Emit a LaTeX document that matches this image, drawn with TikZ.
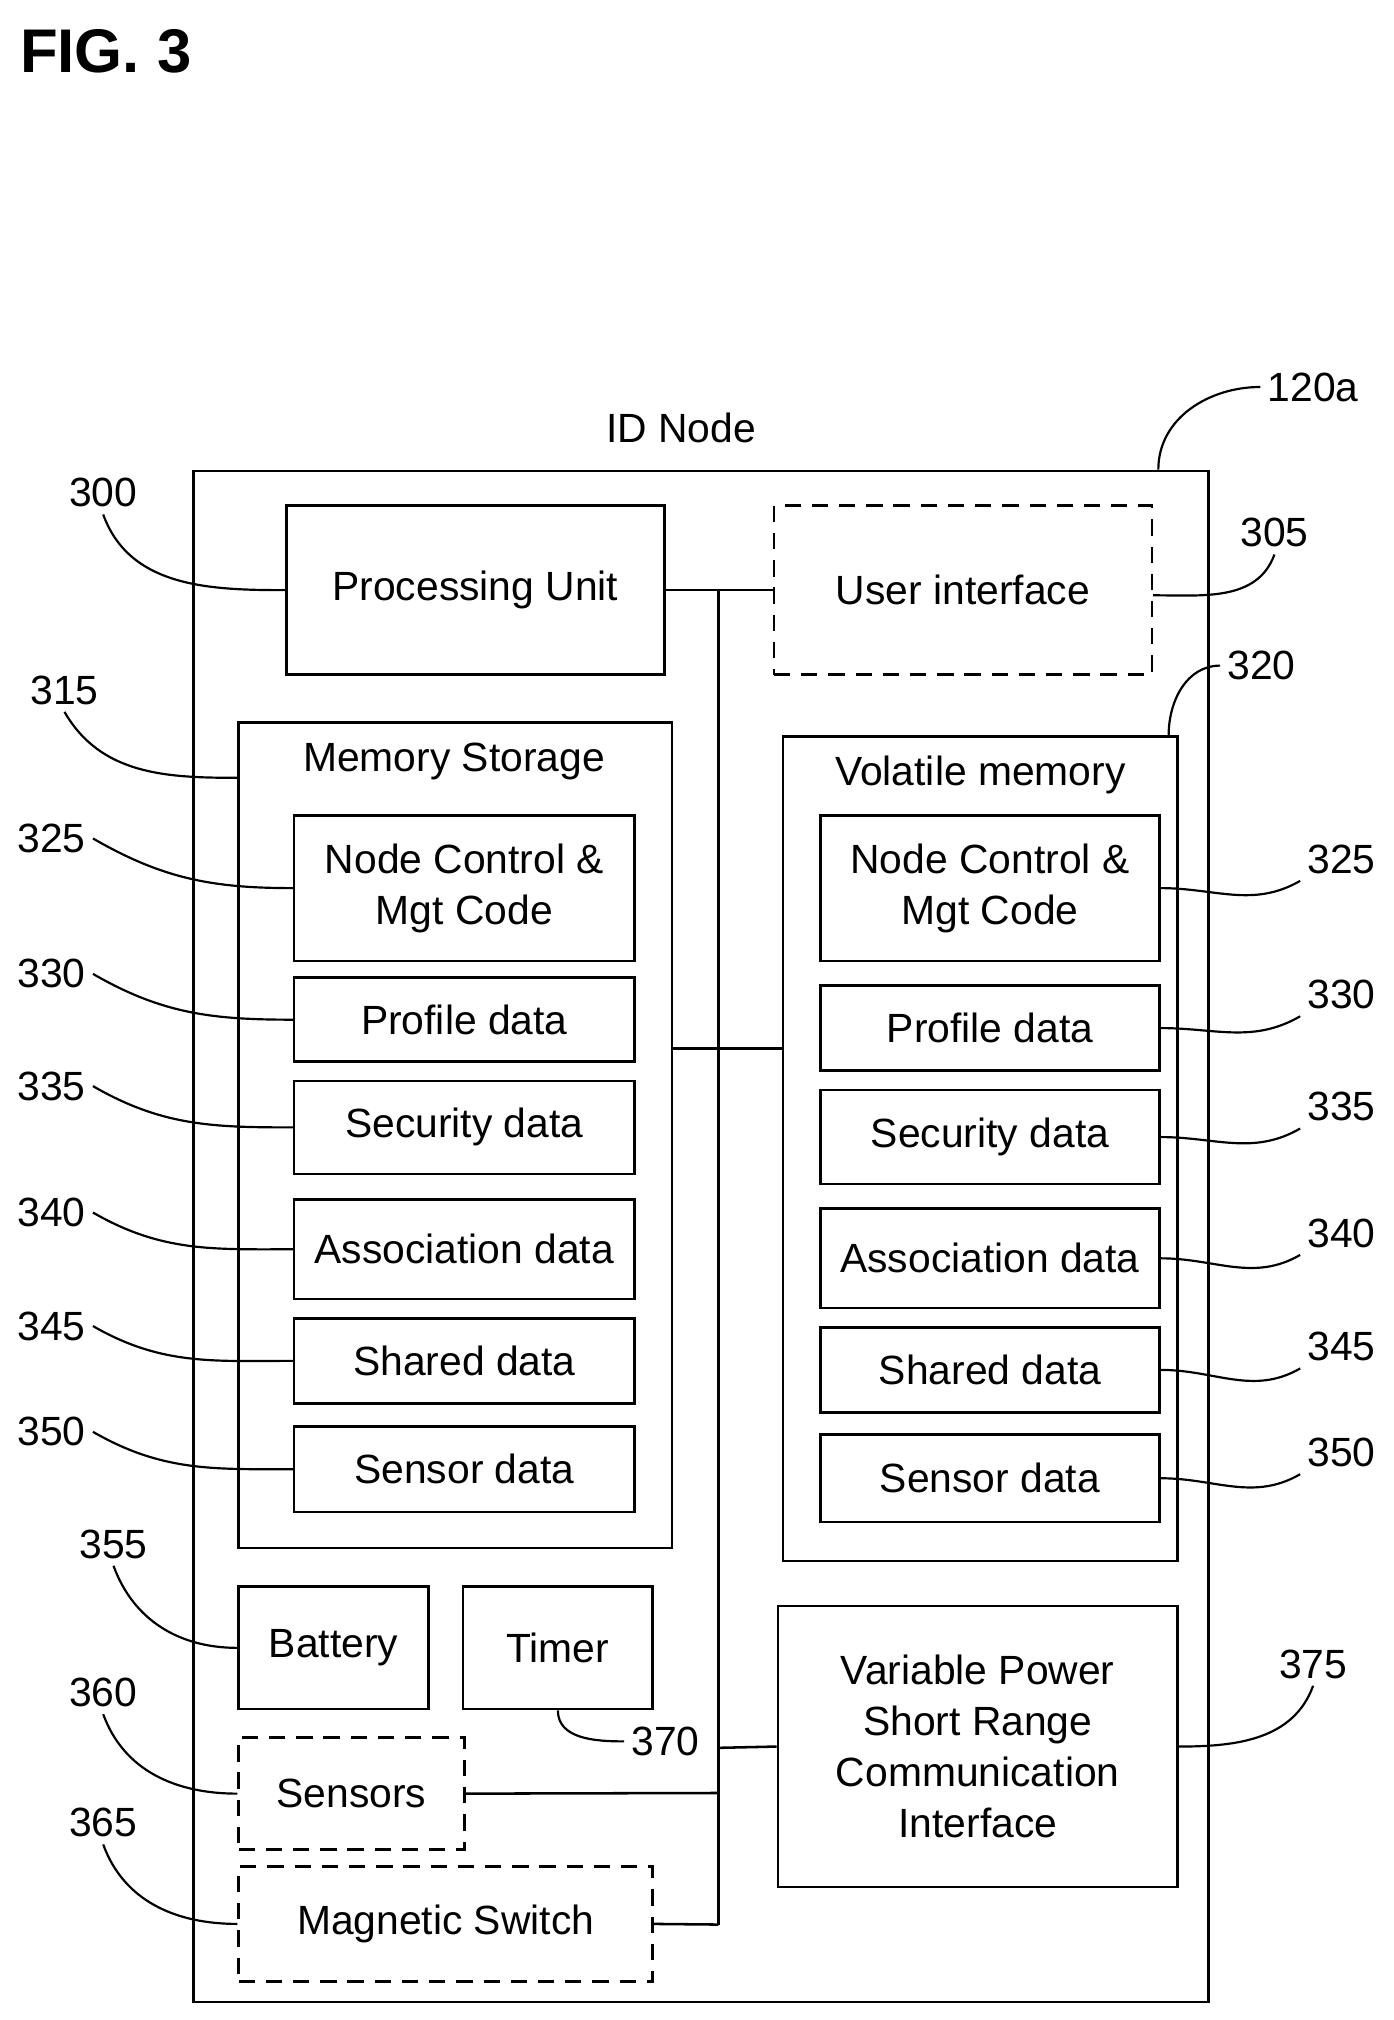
\documentclass[tikz,border=0pt]{standalone}
\usepackage{fontspec}
\setmainfont{Liberation Sans}
\begin{document}
\begin{tikzpicture}[x=0.025cm,y=-0.025cm,line width=1.4pt,
    box/.style={draw,rectangle,align=center,inner sep=0pt,font=\fontsize{22.5}{28}\selectfont},
    dbox/.style={box,dash pattern=on 9pt off 6pt},
    ttl/.style={font=\fontsize{22.5}{28}\selectfont},
    num/.style={font=\fontsize{22.5}{28}\selectfont},
    lead/.style={line width=1.2pt}]
    \useasboundingbox (0,0) rectangle (1080,1566);
    % title
    \node[font=\bfseries\fontsize{34}{40}\selectfont] (fig) at (82,40) {FIG. 3};
    % outer node
    \node[box,minimum width=787*0.025cm,minimum height=1187*0.025cm] (id) at (543.5,958.5) {};
    \node[ttl] (idt) at (528,332) {ID Node};
    \node[num] (n120) at (1018,300) {120a};
    % processing and user interface
    \node[box,minimum width=293*0.025cm,minimum height=131*0.025cm] (pu) at (368.5,457.5) {Processing Unit};
    \node[dbox,minimum width=293*0.025cm,minimum height=131*0.025cm] (ui) at (746.5,457.5) {User interface};
    % memory blocks
    \node[box,minimum width=336*0.025cm,minimum height=640*0.025cm] (ms) at (353,880) {};
    \node[ttl] (mst) at (352,590) {Memory Storage};
    \node[box,minimum width=306*0.025cm,minimum height=639*0.025cm] (vm) at (760,890.5) {};
    \node[ttl] (vmt) at (760,601) {Volatile memory};
    % left entries
    \foreach \nm/\ya/\yb/\tx in {lnc/632/745/{Node Control \&\\Mgt Code},lpd/758/823/Profile data,
        lsd/838/910/Security data,lad/930/1007/Association data,lsh/1022/1088/Shared data,lse/1106/1172/Sensor data}
        \node[box,minimum width=264*0.025cm,minimum height={(\yb-\ya)*0.025cm}] (\nm) at (360,{(\ya+\yb)/2}) {\tx};
    % right entries
    \foreach \nm/\ya/\yb/\tx in {rnc/632/745/{Node Control \&\\Mgt Code},rpd/764/830/Profile data,
        rsd/845/918/Security data,rad/937/1014/Association data,rsh/1029/1095/Shared data,rse/1112/1180/Sensor data}
        \node[box,minimum width=263*0.025cm,minimum height={(\yb-\ya)*0.025cm}] (\nm) at (767.5,{(\ya+\yb)/2}) {\tx};
    % lower blocks
    \node[box,minimum width=147*0.025cm,minimum height=95*0.025cm] (bat) at (258.5,1277.5) {Battery};
    \node[box,minimum width=147*0.025cm,minimum height=95*0.025cm] (tim) at (432.5,1277.5) {Timer};
    \node[dbox,minimum width=175*0.025cm,minimum height=87*0.025cm] (sen) at (272.5,1390.5) {Sensors};
    \node[dbox,minimum width=321*0.025cm,minimum height=89*0.025cm] (mag) at (345.5,1491.5) {Magnetic Switch};
    \node[box,minimum width=310*0.025cm,minimum height=218*0.025cm] (vp) at (758,1354) {Variable Power\\Short Range\\Communication\\Interface};
    % bus
    \coordinate (bt) at (557,458);
    \coordinate (bb) at (557,1492);
    \draw (bt) -- (bb);
    \draw (pu.east) -- (ui.west);
    \draw (ms.east |- 0,813) -- (vm.west |- 0,813);
    \draw (557,1355) -- (vp.west);
    \draw (sen.east) -- (557,1390);
    \draw (mag.east) -- (bb);
    % reference numerals
    \foreach \nm/\x/\y/\tx in {n300/80/382/300,n305/988/413/305,n315/50/535/315,n320/978/516/320,
        n355/88/1197/355,n360/80/1312/360,n365/80/1413/365,n370/516/1350/370,n375/1018/1290/375}
        \node[num] (\nm) at (\x,\y) {\tx};
    \foreach \s/\xs/\dy in {l/40/0,r/1040/16}
        \foreach \nm/\y/\tx in {nc/650/325,pd/755/330,sd/842/335,ad/940/340,sh/1028/345,se/1110/350}
            \node[num] (\s\nm n) at (\xs,{\y+\dy}) {\tx};
    % leaders
    \draw[lead] (id.north east) ++(-40,0) coordinate (c120) to[out=90,in=180] (n120.west);
    \draw[lead] (n300.south) to[out=-70,in=180] (pu.west);
    \draw[lead] (ui.east) ++(0,4) coordinate (c305) to[out=0,in=-110] (n305.south);
    \draw[lead] (n315.south) to[out=-60,in=180] (ms.west |- 0,603);
    \draw[lead] (vm.north east) ++(-8,0) coordinate (c320) to[out=90,in=180] (n320.west);
    \foreach \s in {nc,pd,sd,ad,sh,se}
        \draw[lead] (l\s n.east) to[out=-30,in=180] (l\s.west);
    \foreach \s in {nc,pd,sd,ad,sh,se}
        \draw[lead] (r\s.east) to[out=0,in=-150] (r\s n.south west);
    \draw[lead] (n355.south) to[out=-70,in=180] (bat.west);
    \draw[lead] (n360.south) to[out=-70,in=180] (sen.west);
    \draw[lead] (n365.south) to[out=-70,in=180] (mag.west);
    \draw[lead] (tim.south) to[out=-90,in=180] (n370.west);
    \draw[lead] (vp.east) to[out=0,in=-110] (n375.south);
\end{tikzpicture}
\end{document}
